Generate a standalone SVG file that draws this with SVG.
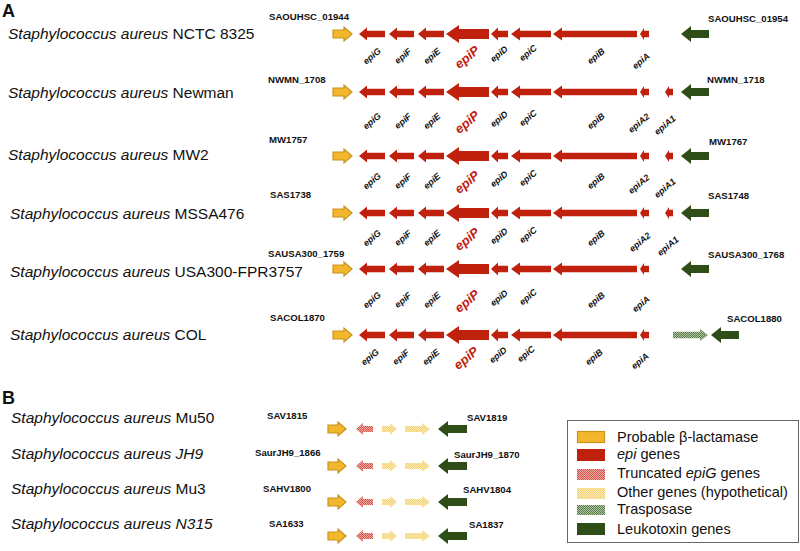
<svg xmlns="http://www.w3.org/2000/svg" xmlns:xlink="http://www.w3.org/1999/xlink" width="800" height="551" viewBox="0 0 800 551">
<style>
.sp{font-family:"Liberation Sans",Arial,sans-serif;font-size:15.5px;fill:#111}
.it{font-style:italic}
.id{font-family:"Liberation Sans",Arial,sans-serif;font-weight:bold;font-size:9.6px;fill:#111}
.gl{font-family:"Liberation Sans",Arial,sans-serif;font-weight:bold;font-style:italic;font-size:9px;fill:#111;text-anchor:middle;dominant-baseline:central}
.gp{font-family:"Liberation Sans",Arial,sans-serif;font-weight:bold;font-style:italic;font-size:13px;fill:#c0210d;text-anchor:middle;dominant-baseline:central}
.sec{font-family:"Liberation Sans",Arial,sans-serif;font-weight:bold;font-size:18px;fill:#111}
.lg{font-family:"Liberation Sans",Arial,sans-serif;font-size:14.5px;fill:#111}
.red{fill:#c0210d}
.yel{fill:#f2b72b;stroke:#c89320;stroke-width:1.2}
.grn{fill:#2e4d17}
</style>
<defs>
<pattern id="hRed" width="2" height="2" patternUnits="userSpaceOnUse"><rect width="2" height="2" fill="#efaaa1"/><rect width="1" height="1" fill="#d2544a"/><rect x="1" y="1" width="1" height="1" fill="#d2544a"/></pattern>
<pattern id="hYel" width="2" height="2" patternUnits="userSpaceOnUse"><rect width="2" height="2" fill="#fbe9ad"/><rect width="1" height="1" fill="#f2d27a"/><rect x="1" y="1" width="1" height="1" fill="#f2d27a"/></pattern>
<pattern id="hGrn" width="2" height="2" patternUnits="userSpaceOnUse"><rect width="2" height="2" fill="#b3c6a6"/><rect width="1" height="1" fill="#587a47"/><rect x="1" y="1" width="1" height="1" fill="#587a47"/></pattern>
<polygon id="bla" class="yel" points="352,0 344,-7 344,-4 333,-4 333,4 344,4 344,7"/>
<polygon id="epiG" class="red" points="359,0 367,-6.5 367,-3.3 385,-3.3 385,3.3 367,3.3 367,6.5"/>
<polygon id="epiF" class="red" points="389,0 397,-6.5 397,-3.3 414,-3.3 414,3.3 397,3.3 397,6.5"/>
<polygon id="epiE" class="red" points="418,0 426,-6.5 426,-3.3 444,-3.3 444,3.3 426,3.3 426,6.5"/>
<polygon id="epiP" class="red" points="446,0 459,-9 459,-5 489,-5 489,5 459,5 459,9"/>
<polygon id="epiD" class="red" points="491,0 498,-6.5 498,-3.3 508,-3.3 508,3.3 498,3.3 498,6.5"/>
<polygon id="epiC" class="red" points="511,0 520,-6.5 520,-3.3 551,-3.3 551,3.3 520,3.3 520,6.5"/>
<polygon id="epiB" class="red" points="553,0 562,-6.5 562,-3.3 637,-3.3 637,3.3 562,3.3 562,6.5"/>
<polygon id="epiA" class="red" points="640,0 644,-6 644,-3.3 649,-3.3 649,3.3 644,3.3 644,6"/>
<polygon id="epiA1" class="red" points="665,0 669,-6 669,-3.3 673,-3.3 673,3.3 669,3.3 669,6"/>
<polygon id="lkt" class="grn" points="681,0 691,-8 691,-4 709,-4 709,4 691,4 691,8"/>
<polygon id="tnp" fill="url(#hGrn)" points="708,0 700,-6 700,-3.3 673,-3.3 673,3.3 700,3.3 700,6"/>
<g id="epis">
<use href="#bla"/><use href="#epiG"/><use href="#epiF"/><use href="#epiE"/><use href="#epiP"/><use href="#epiD"/><use href="#epiC"/><use href="#epiB"/><use href="#epiA"/>
</g>
<polygon id="b_bla" class="yel" points="346,0 338,-7 338,-4 328,-4 328,4 338,4 338,7"/>
<polygon id="b_tr" fill="url(#hRed)" points="356,0 363,-6 363,-3 373,-3 373,3 363,3 363,6"/>
<polygon id="b_o1" fill="url(#hYel)" points="397,0 390,-6 390,-3 382,-3 382,3 390,3 390,6"/>
<polygon id="b_o2" fill="url(#hYel)" points="430,0 422,-6 422,-3 405,-3 405,3 422,3 422,6"/>
<polygon id="b_lk" class="grn" points="438,0 448,-8 448,-4 467,-4 467,4 448,4 448,8"/>
<g id="brow"><use href="#b_bla"/><use href="#b_tr"/><use href="#b_o1"/><use href="#b_o2"/><use href="#b_lk"/></g>
</defs>

<text class="sec" x="2" y="17">A</text>

<g id="row-NCTC8325">
<text class="sp" x="8" y="39"><tspan class="it">Staphylococcus aureus</tspan> NCTC 8325</text>
<text class="id" x="269" y="20">SAOUHSC_01944</text>
<text class="id" x="708" y="22">SAOUHSC_01954</text>
<use href="#epis" y="34"/><use href="#lkt" y="34"/>
<text class="gl" x="372" y="56" transform="rotate(-40 372 56)">epiG</text>
<text class="gl" x="403" y="56" transform="rotate(-40 403 56)">epiF</text>
<text class="gl" x="432" y="56" transform="rotate(-40 432 56)">epiE</text>
<text class="gp" x="467" y="57" transform="rotate(-40 467 57)">epiP</text>
<text class="gl" x="499" y="54" transform="rotate(-40 499 54)">epiD</text>
<text class="gl" x="528" y="53" transform="rotate(-40 528 53)">epiC</text>
<text class="gl" x="596" y="56" transform="rotate(-40 596 56)">epiB</text>
<text class="gl" x="641" y="61" transform="rotate(-40 641 61)">epiA</text>
</g>

<g id="row-Newman">
<text class="sp" x="8" y="98"><tspan class="it">Staphylococcus aureus</tspan> Newman</text>
<text class="id" x="268" y="83">NWMN_1708</text>
<text class="id" x="707" y="83">NWMN_1718</text>
<use href="#bla" y="92"/><use href="#epiG" y="92"/><use href="#epiF" y="92"/><use href="#epiE" y="92"/><use href="#epiP" y="92"/><use href="#epiD" y="92"/><use href="#epiC" y="92"/><use href="#epiB" y="92"/><use href="#epiA" y="92"/><use href="#epiA1" y="92"/><use href="#lkt" y="92"/>
<text class="gl" x="372" y="121" transform="rotate(-40 372 121)">epiG</text>
<text class="gl" x="403" y="121" transform="rotate(-40 403 121)">epiF</text>
<text class="gl" x="432" y="121" transform="rotate(-40 432 121)">epiE</text>
<text class="gp" x="467" y="122" transform="rotate(-40 467 122)">epiP</text>
<text class="gl" x="499" y="119" transform="rotate(-40 499 119)">epiD</text>
<text class="gl" x="528" y="118" transform="rotate(-40 528 118)">epiC</text>
<text class="gl" x="596" y="121" transform="rotate(-40 596 121)">epiB</text>
<text class="gl" x="639" y="123" transform="rotate(-40 639 123)">epiA2</text>
<text class="gl" x="665" y="125" transform="rotate(-40 665 125)">epiA1</text>
</g>

<g id="row-MW2">
<text class="sp" x="8" y="160"><tspan class="it">Staphylococcus aureus</tspan> MW2</text>
<text class="id" x="269" y="143">MW1757</text>
<text class="id" x="709" y="145">MW1767</text>
<use href="#bla" y="156"/><use href="#epiG" y="156"/><use href="#epiF" y="156"/><use href="#epiE" y="156"/><use href="#epiP" y="156"/><use href="#epiD" y="156"/><use href="#epiC" y="156"/><use href="#epiB" y="156"/><use href="#epiA" y="156"/><use href="#epiA1" y="156"/><use href="#lkt" y="156"/>
<text class="gl" x="372" y="181" transform="rotate(-40 372 181)">epiG</text>
<text class="gl" x="403" y="181" transform="rotate(-40 403 181)">epiF</text>
<text class="gl" x="432" y="181" transform="rotate(-40 432 181)">epiE</text>
<text class="gp" x="467" y="182" transform="rotate(-40 467 182)">epiP</text>
<text class="gl" x="499" y="179" transform="rotate(-40 499 179)">epiD</text>
<text class="gl" x="528" y="178" transform="rotate(-40 528 178)">epiC</text>
<text class="gl" x="596" y="181" transform="rotate(-40 596 181)">epiB</text>
<text class="gl" x="639" y="184" transform="rotate(-40 639 184)">epiA2</text>
<text class="gl" x="665" y="188" transform="rotate(-40 665 188)">epiA1</text>
</g>

<g id="row-MSSA476">
<text class="sp" x="10" y="219"><tspan class="it">Staphylococcus aureus</tspan> MSSA476</text>
<text class="id" x="270" y="198">SAS1738</text>
<text class="id" x="708" y="199">SAS1748</text>
<use href="#bla" y="213"/><use href="#epiG" y="213"/><use href="#epiF" y="213"/><use href="#epiE" y="213"/><use href="#epiP" y="213"/><use href="#epiD" y="213"/><use href="#epiC" y="213"/><use href="#epiB" y="213"/><use href="#epiA" y="213"/><use href="#epiA1" y="213"/><use href="#lkt" y="213"/>
<text class="gl" x="372" y="238" transform="rotate(-40 372 238)">epiG</text>
<text class="gl" x="403" y="238" transform="rotate(-40 403 238)">epiF</text>
<text class="gl" x="432" y="238" transform="rotate(-40 432 238)">epiE</text>
<text class="gp" x="467" y="239" transform="rotate(-40 467 239)">epiP</text>
<text class="gl" x="499" y="236" transform="rotate(-40 499 236)">epiD</text>
<text class="gl" x="528" y="235" transform="rotate(-40 528 235)">epiC</text>
<text class="gl" x="596" y="238" transform="rotate(-40 596 238)">epiB</text>
<text class="gl" x="640" y="242" transform="rotate(-40 640 242)">epiA2</text>
<text class="gl" x="668" y="246" transform="rotate(-40 668 246)">epiA1</text>
</g>

<g id="row-USA300">
<text class="sp" x="10" y="277"><tspan class="it">Staphylococcus aureus</tspan> USA300-FPR3757</text>
<text class="id" x="268" y="257">SAUSA300_1759</text>
<text class="id" x="708" y="258">SAUSA300_1768</text>
<use href="#epis" y="269"/><use href="#lkt" y="269"/>
<text class="gl" x="372" y="300" transform="rotate(-40 372 300)">epiG</text>
<text class="gl" x="403" y="300" transform="rotate(-40 403 300)">epiF</text>
<text class="gl" x="432" y="300" transform="rotate(-40 432 300)">epiE</text>
<text class="gp" x="467" y="301" transform="rotate(-40 467 301)">epiP</text>
<text class="gl" x="499" y="298" transform="rotate(-40 499 298)">epiD</text>
<text class="gl" x="528" y="297" transform="rotate(-40 528 297)">epiC</text>
<text class="gl" x="596" y="300" transform="rotate(-40 596 300)">epiB</text>
<text class="gl" x="641" y="304" transform="rotate(-40 641 304)">epiA</text>
</g>

<g id="row-COL">
<text class="sp" x="10" y="340"><tspan class="it">Staphylococcus aureus</tspan> COL</text>
<text class="id" x="270" y="321">SACOL1870</text>
<text class="id" x="727" y="322">SACOL1880</text>
<use href="#epis" y="335"/><use href="#tnp" y="335"/><use href="#lkt" x="30" y="335"/>
<text class="gl" x="370" y="357" transform="rotate(-40 370 357)">epiG</text>
<text class="gl" x="401" y="357" transform="rotate(-40 401 357)">epiF</text>
<text class="gl" x="431" y="357" transform="rotate(-40 431 357)">epiE</text>
<text class="gp" x="466" y="358" transform="rotate(-40 466 358)">epiP</text>
<text class="gl" x="498" y="355" transform="rotate(-40 498 355)">epiD</text>
<text class="gl" x="526" y="354" transform="rotate(-40 526 354)">epiC</text>
<text class="gl" x="594" y="357" transform="rotate(-40 594 357)">epiB</text>
<text class="gl" x="640" y="361" transform="rotate(-40 640 361)">epiA</text>
</g>

<text class="sec" x="2" y="404">B</text>

<g id="row-Mu50">
<text class="sp" x="11" y="423"><tspan class="it">Staphylococcus aureus</tspan> Mu50</text>
<text class="id" x="267" y="419">SAV1815</text>
<text class="id" x="467" y="421">SAV1819</text>
<use href="#brow" y="429"/>
</g>
<g id="row-JH9">
<text class="sp it" x="11" y="459">Staphylococcus aureus JH9</text>
<text class="id" x="255" y="456">SaurJH9_1866</text>
<text class="id" x="454" y="458">SaurJH9_1870</text>
<use href="#brow" y="466"/>
</g>
<g id="row-Mu3">
<text class="sp" x="11" y="494"><tspan class="it">Staphylococcus aureus</tspan> Mu3</text>
<text class="id" x="263" y="492">SAHV1800</text>
<text class="id" x="463" y="493">SAHV1804</text>
<use href="#brow" y="502"/>
</g>
<g id="row-N315">
<text class="sp it" x="11" y="529">Staphylococcus aureus N315</text>
<text class="id" x="269" y="527">SA1633</text>
<text class="id" x="469" y="528">SA1837</text>
<use href="#brow" y="536"/>
</g>

<g id="legend">
<rect x="567.5" y="420.5" width="231" height="122" fill="#fff" stroke="#666" stroke-width="1"/>
<rect x="577.5" y="431.5" width="27" height="11" class="yel"/>
<rect x="577" y="449" width="28" height="12" class="red"/>
<rect x="577" y="469" width="28" height="11" fill="url(#hRed)"/>
<rect x="577" y="488" width="28" height="11" fill="url(#hYel)"/>
<rect x="577" y="505" width="28" height="10" fill="url(#hGrn)"/>
<rect x="577" y="523" width="28" height="12" class="grn"/>
<text class="lg" x="617" y="442">Probable β-lactamase</text>
<text class="lg" x="617" y="459"><tspan class="it">epi</tspan> genes</text>
<text class="lg" x="617" y="478">Truncated <tspan class="it">epiG</tspan> genes</text>
<text class="lg" x="617" y="497">Other genes (hypothetical)</text>
<text class="lg" x="617" y="514">Trasposase</text>
<text class="lg" x="617" y="534">Leukotoxin genes</text>
</g>
</svg>
